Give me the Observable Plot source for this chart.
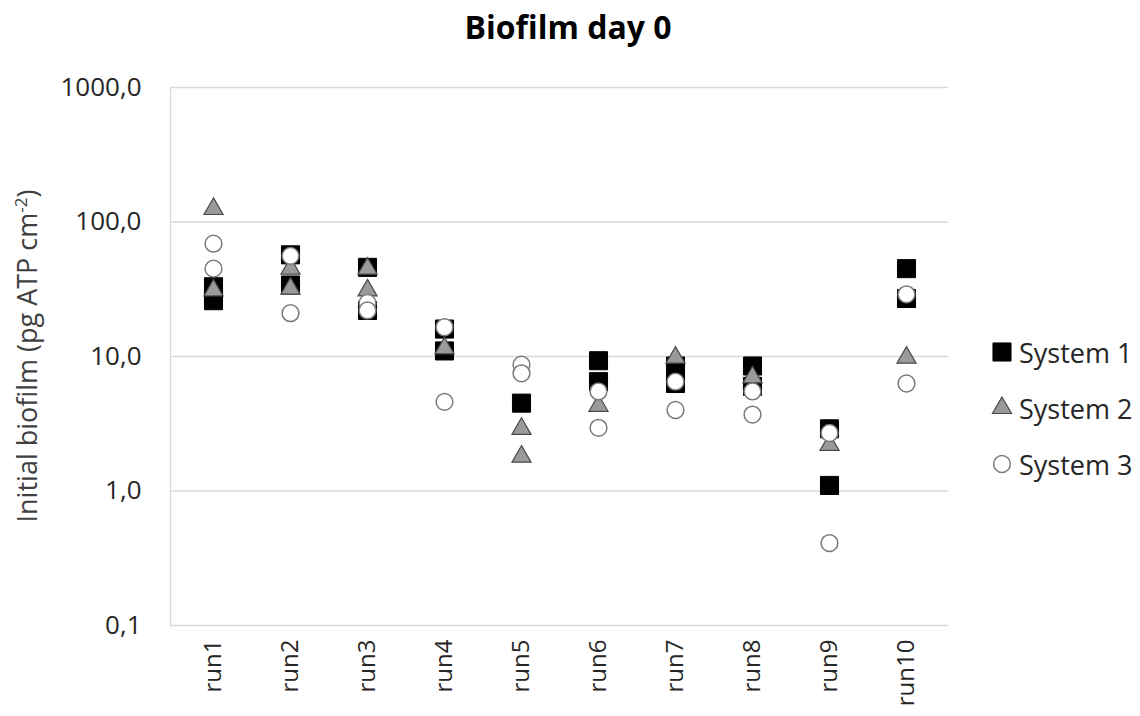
<!DOCTYPE html>
<html>
<head>
<meta charset="utf-8">
<script src="https://cdn.jsdelivr.net/npm/d3@7"></script>
<script src="https://cdn.jsdelivr.net/npm/@observablehq/plot@0.6"></script>
<style>
  html, body { margin: 0; padding: 0; background: #fff; }
  #wrap { position: relative; width: 1140px; height: 716px; font-family: "Open Sans", sans-serif; color: #262626; overflow: hidden; }
  #title { position: absolute; left: 0; top: 5px; width: 1136px; text-align: center; font-weight: bold; font-size: 32px; color: #000; }
  #ylabel { position: absolute; left: 26px; top: 356px; transform: translate(-50%, -50%) rotate(-90deg); white-space: nowrap; font-size: 27px; color: #404040; }
  #ylabel sup { font-size: 17px; vertical-align: 10px; line-height: 0; }
  #legend { position: absolute; left: 990px; top: 330px; }
  .item { position: absolute; left: 0; height: 30px; display: flex; align-items: center; white-space: nowrap; font-size: 27px; color: #262626; }
  .item svg { margin-right: 5px; }
  #chart svg { display: block; }
</style>
</head>
<body>
<div id="wrap">
  <div id="chart"></div>
  <div id="title">Biofilm day 0</div>
  <div id="ylabel">Initial biofilm (pg ATP cm<sup>-2</sup>)</div>
  <div id="legend"></div>
</div>
<script>
// Runs on the horizontal axis
const runs = ["run1", "run2", "run3", "run4", "run5", "run6", "run7", "run8", "run9", "run10"];

// Initial biofilm (pg ATP cm-2) per run, one list of measurements per run
const system1 = [[33, 26], [57, 34], [46, 22], [16, 11], [4.5], [9.3, 6.5], [8.5, 6.3], [8.5, 6.0], [2.9, 1.1], [45, 27]];
const system2 = [[125, 31], [45, 32], [45, 31], [11.5], [2.9, 1.8], [4.3], [9.8], [7.0], [2.2], [9.8]];
const system3 = [[69, 45], [56, 21], [25, 22], [16.5, 4.6], [8.7, 7.5], [5.5, 2.95], [6.5, 4.0], [5.5, 3.7], [2.7, 0.41], [29, 6.3]];

const seriesNames = ["System 1", "System 2", "System 3"];

// Logarithmic value axis
const yTicks = [0.1, 1, 10, 100, 1000];
const yTickLabels = ["0,1", "1,0", "10,0", "100,0", "1000,0"];

// Flatten a series into {run, value} rows
const rows = (series) => series.flatMap((vals, i) => vals.map((v) => ({run: runs[i], value: v})));

// Marker styles for the three systems
const styles = [
  {symbol: "square", r: 10.2, fill: "#000000", stroke: "#000000", strokeWidth: 1},
  {symbol: "triangle", r: 7.1, fill: "#9a9a9a", stroke: "#4a4a4a", strokeWidth: 1.2},
  {symbol: "circle", r: 8.4, fill: "#ffffff", stroke: "#7a7a7a", strokeWidth: 1.5}
];

const chart = Plot.plot({
  width: 1140,
  height: 716,
  marginLeft: 170,
  marginRight: 192,
  marginTop: 87,
  marginBottom: 91,
  style: {fontFamily: "Open Sans, sans-serif", fontSize: "24px", color: "#262626", background: "#fff"},
  x: {type: "point", domain: runs, padding: 0.5},
  y: {type: "log", domain: [0.1, 1000]},
  marks: [
    Plot.ruleY(yTicks, {stroke: "#d9d9d9", strokeWidth: 1.3}),
    Plot.frame({anchor: "left", stroke: "#d9d9d9", strokeWidth: 1.3}),
    Plot.axisY({ticks: yTicks, tickFormat: (d) => yTickLabels[yTicks.indexOf(d)], tickSize: 0, tickPadding: 29, label: null, fontSize: 26}),
    Plot.axisX({tickRotate: -90, tickSize: 0, tickPadding: 14, label: null}),
    Plot.dot(rows(system1), {x: "run", y: "value", ...styles[0]}),
    Plot.dot(rows(system2), {x: "run", y: "value", ...styles[1]}),
    Plot.dot(rows(system3), {x: "run", y: "value", ...styles[2]})
  ]
});
document.getElementById("chart").appendChild(chart);

// Legend to the right of the plot
const legend = document.getElementById("legend");
const symbolPaths = {
  square: d3.symbol(d3.symbolSquare, Math.PI * 10.2 * 10.2)(),
  triangle: d3.symbol(d3.symbolTriangle, Math.PI * 7.1 * 7.1)(),
  circle: d3.symbol(d3.symbolCircle, Math.PI * 8.4 * 8.4)()
};
seriesNames.forEach((name, i) => {
  const s = styles[i];
  const item = document.createElement("div");
  item.className = "item";
  item.style.top = (i * 56 + 7) + "px";
  item.innerHTML = `<svg width="24" height="24" viewBox="-12 -12 24 24"><path d="${symbolPaths[s.symbol]}" fill="${s.fill}" stroke="${s.stroke}" stroke-width="${s.strokeWidth}"/></svg><span>${name}</span>`;
  legend.appendChild(item);
});
</script>
</body>
</html>
